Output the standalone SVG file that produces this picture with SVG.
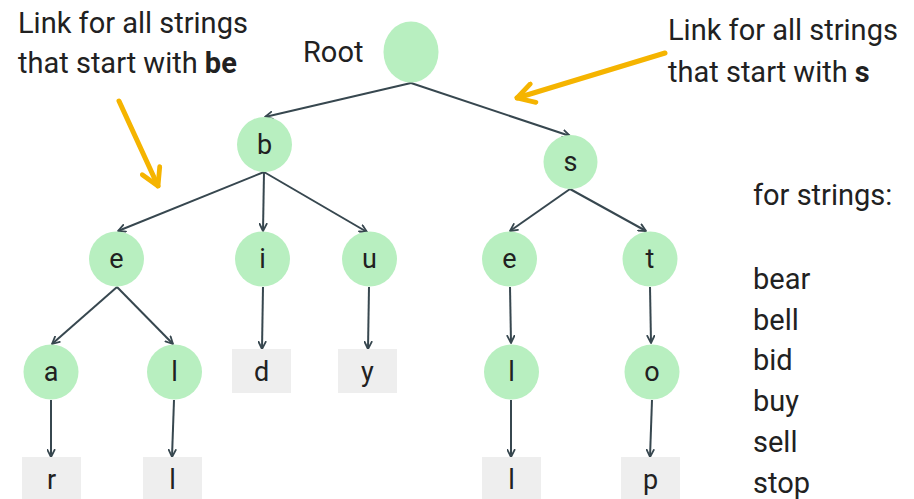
<svg xmlns="http://www.w3.org/2000/svg" width="914" height="499" viewBox="0 0 914 499">
  <style>
    text { font-family: Roboto, "Liberation Sans", sans-serif; fill: #212121; }
    .lbl { font-size: 27px; text-anchor: middle; }
    .note { font-size: 29px; }
    .node { fill: #b8efc0; }
    .leaf { fill: #eeeeee; }
    .edge { stroke: #37474f; stroke-width: 2; fill: none; marker-end: url(#arr); }
    .hint { stroke: #f5b400; stroke-width: 5; fill: none; stroke-linecap: round; marker-end: url(#harr); }
  </style>
  <defs>
    <marker id="arr" viewBox="0 0 10 10" refX="9" refY="5" markerWidth="9" markerHeight="9" markerUnits="userSpaceOnUse" orient="auto">
      <path d="M1,1 L9,5 L1,9" fill="none" stroke="#37474f" stroke-width="2" stroke-linecap="round" stroke-linejoin="round"/>
    </marker>
    <marker id="harr" viewBox="0 0 10 10" refX="9" refY="5" markerWidth="24" markerHeight="24" markerUnits="userSpaceOnUse" orient="auto">
      <path d="M2,1 L9,5 L2,9" fill="none" stroke="#f5b400" stroke-width="2" stroke-linecap="round" stroke-linejoin="round"/>
    </marker>
  </defs>

  <rect width="914" height="499" fill="#ffffff"/>

  <!-- connectors -->
  <g id="edges">
    <line class="edge" x1="411" y1="83" x2="265" y2="117"/>
    <line class="edge" x1="411" y1="83" x2="570" y2="136"/>
    <line class="edge" x1="264" y1="172" x2="118" y2="231"/>
    <line class="edge" x1="264" y1="172" x2="263" y2="231"/>
    <line class="edge" x1="264" y1="172" x2="367" y2="232"/>
    <line class="edge" x1="117" y1="287" x2="52" y2="344"/>
    <line class="edge" x1="117" y1="287" x2="173" y2="344"/>
    <line class="edge" x1="263" y1="287" x2="262" y2="349"/>
    <line class="edge" x1="369" y1="287" x2="368" y2="349"/>
    <line class="edge" x1="51" y1="400" x2="51" y2="457"/>
    <line class="edge" x1="174" y1="400" x2="172" y2="457"/>
    <line class="edge" x1="570" y1="189" x2="510" y2="231"/>
    <line class="edge" x1="570" y1="189" x2="646" y2="231"/>
    <line class="edge" x1="510" y1="287" x2="511" y2="343"/>
    <line class="edge" x1="650" y1="287" x2="651" y2="343"/>
    <line class="edge" x1="511" y1="400" x2="511" y2="457"/>
    <line class="edge" x1="652" y1="400" x2="650" y2="457"/>
  </g>

  <!-- pointer arrows -->
  <g id="hints">
    <line class="hint" x1="119" y1="101" x2="158" y2="186"/>
    <line class="hint" x1="665" y1="53" x2="517" y2="98"/>
  </g>

  <!-- tree nodes -->
  <g id="root"><ellipse class="node" cx="411" cy="52" rx="27.5" ry="30.5"/></g>
  <g id="n-b"><circle class="node" cx="264.5" cy="144.5" r="27.5"/><text class="lbl" x="264.5" y="154">b</text></g>
  <g id="n-s"><circle class="node" cx="570.5" cy="162" r="27"/><text class="lbl" x="570.5" y="171">s</text></g>
  <g id="n-be"><circle class="node" cx="116.5" cy="259" r="27.5"/><text class="lbl" x="116.5" y="268">e</text></g>
  <g id="n-bi"><circle class="node" cx="262.5" cy="259" r="27.5"/><text class="lbl" x="262.5" y="268">i</text></g>
  <g id="n-bu"><circle class="node" cx="369.5" cy="259" r="27.5"/><text class="lbl" x="369.5" y="268">u</text></g>
  <g id="n-se"><circle class="node" cx="509.5" cy="259" r="27.5"/><text class="lbl" x="509.5" y="268">e</text></g>
  <g id="n-st"><circle class="node" cx="650" cy="259" r="27.5"/><text class="lbl" x="650" y="268">t</text></g>
  <g id="n-bea"><circle class="node" cx="51" cy="372" r="27.5"/><text class="lbl" x="51" y="381">a</text></g>
  <g id="n-bel"><circle class="node" cx="174.5" cy="372" r="27.5"/><text class="lbl" x="174.5" y="381">l</text></g>
  <g id="n-sel"><circle class="node" cx="511.5" cy="372" r="27.5"/><text class="lbl" x="511.5" y="381">l</text></g>
  <g id="n-sto"><circle class="node" cx="652" cy="372" r="27.5"/><text class="lbl" x="652" y="381">o</text></g>

  <!-- leaf nodes -->
  <g id="leaf-bid"><rect class="leaf" x="232" y="349" width="59" height="44"/><text class="lbl" x="261.5" y="380.5">d</text></g>
  <g id="leaf-buy"><rect class="leaf" x="338" y="349" width="59" height="44"/><text class="lbl" x="367.5" y="380.5">y</text></g>
  <g id="leaf-bear"><rect class="leaf" x="22" y="457" width="59" height="44"/><text class="lbl" x="51.5" y="489">r</text></g>
  <g id="leaf-bell"><rect class="leaf" x="143" y="457" width="59" height="44"/><text class="lbl" x="172.5" y="489">l</text></g>
  <g id="leaf-sell"><rect class="leaf" x="482" y="457" width="59" height="44"/><text class="lbl" x="511.5" y="489">l</text></g>
  <g id="leaf-stop"><rect class="leaf" x="621" y="457" width="59" height="44"/><text class="lbl" x="650.5" y="489">p</text></g>

  <!-- annotations -->
  <g id="notes">
    <text class="note" x="303" y="62">Root</text>
    <text class="note" x="18" y="33">Link for all strings</text>
    <text class="note" x="18" y="73">that start with <tspan font-weight="bold">be</tspan></text>
    <text class="note" x="668" y="40">Link for all strings</text>
    <text class="note" x="668" y="82">that start with <tspan font-weight="bold">s</tspan></text>
    <text class="note" x="753" y="205">for strings:</text>
    <text class="note" x="753" y="289">bear</text>
    <text class="note" x="753" y="330">bell</text>
    <text class="note" x="753" y="370">bid</text>
    <text class="note" x="753" y="411">buy</text>
    <text class="note" x="753" y="452">sell</text>
    <text class="note" x="753" y="493">stop</text>
  </g>
</svg>
